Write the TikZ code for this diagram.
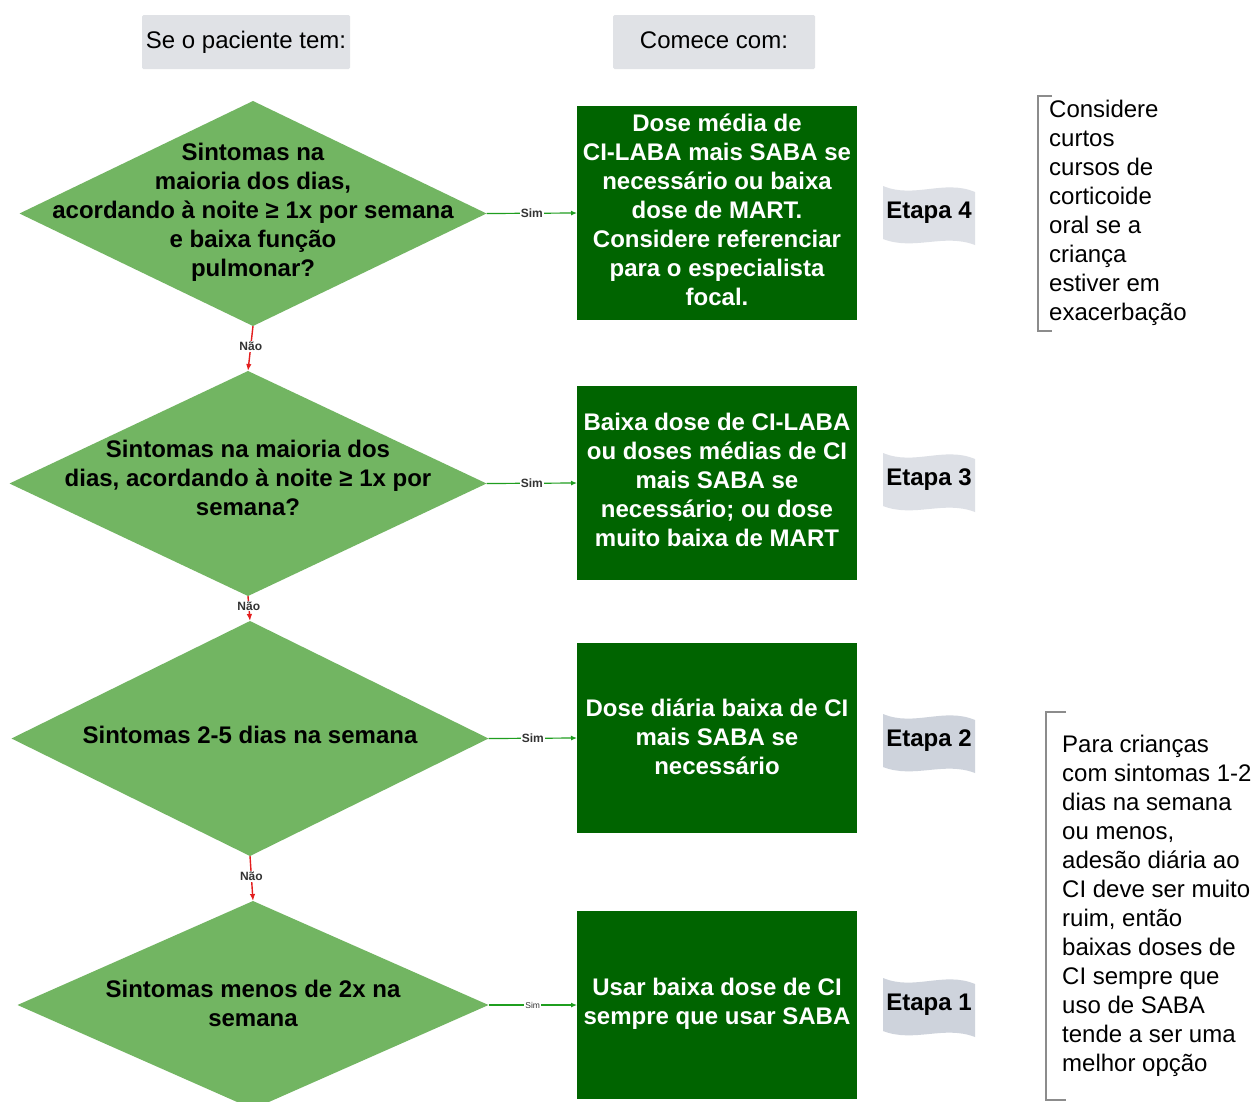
\documentclass[tikz,border=0pt]{standalone}
\usepackage{fontspec}
\setmainfont{Liberation Sans}
\usetikzlibrary{shapes.geometric,arrows.meta}

\definecolor{decisionfill}{HTML}{72B562}
\definecolor{actionfill}{HTML}{006400}
\definecolor{headerfill}{HTML}{E0E2E6}
\definecolor{tapelight}{HTML}{DDE0E6}
\definecolor{tapedark}{HTML}{CED3DC}
\definecolor{yesline}{HTML}{1F9E1F}
\definecolor{noline}{HTML}{E31E1E}
\definecolor{bracketgray}{HTML}{8C8C8C}
\definecolor{labelgray}{HTML}{333333}

\newcommand{\bigtext}{\fontsize{24}{29}\selectfont}

\begin{document}
\begin{tikzpicture}[x=1pt,y=-1pt,
  decision/.style={diamond, fill=decisionfill, draw=none, inner sep=0pt, outer sep=0pt},
  question/.style={align=center, font=\bfseries\bigtext, text=black, inner sep=0pt},
  action/.style={rectangle, fill=actionfill, draw=none, inner sep=0pt, outer sep=0pt,
    minimum width=280pt},
  actiontext/.style={align=center, font=\bfseries\bigtext, text=white, inner sep=0pt},
  header/.style={rectangle, fill=headerfill, rounded corners=1.5pt, inner sep=0pt,
    font=\bigtext, minimum height=54pt, text height=17pt, text depth=5pt},
  stagelabel/.style={font=\bfseries\bigtext, inner sep=0pt},
  note/.style={align=left, font=\bigtext, inner sep=0pt, anchor=north west},
  yesarrow/.style={draw=yesline, line width=1.2pt, -{Latex[length=6pt,width=5pt]}},
  noarrow/.style={draw=noline, line width=1.4pt, -{Latex[length=7pt,width=5.5pt]}},
  yeslabel/.style={fill=white, inner sep=1pt, text=labelgray, font=\bfseries\fontsize{12}{14}\selectfont},
  nolabel/.style={fill=white, inner sep=1pt, text=labelgray, font=\bfseries\fontsize{12}{14}\selectfont},
  bracketline/.style={draw=bracketgray, line width=1.2pt}
]
\useasboundingbox (0,0) rectangle (1253,1101);
\fill[white] (0,0) rectangle (1253,1101);
\clip (0,0) rectangle (1253,1101);

% column headers
\node[header, minimum width=208pt] (h1) at (246,42) {Se o paciente tem:};
\node[header, minimum width=202pt] (h2) at (714,42) {Comece com:};

% decision diamonds
\node[decision, minimum width=467pt, minimum height=225pt] (d1) at (253,213.5) {};
\node[decision, minimum width=477pt, minimum height=225pt] (d2) at (248,483.5) {};
\node[decision, minimum width=477pt, minimum height=235pt] (d3) at (250,738.5) {};
\node[decision, minimum width=471pt, minimum height=208pt] (d4) at (253,1005) {};

\node[question] (q1) at (253,212) {Sintomas na\\maioria dos dias,\\acordando à noite ≥ 1x por semana\\e baixa função\\pulmonar?};
\node[question] (q2) at (248,478) {Sintomas na maioria dos\\dias, acordando à noite ≥ 1x por\\semana?};
\node[question] (q3) at (250,735) {Sintomas 2-5 dias na semana};
\node[question] (q4) at (253,1003) {Sintomas menos de 2x na\\semana};

% treatment boxes
\node[action, minimum height=214pt] (b1) at (717,213) {};
\node[action, minimum height=194pt] (b2) at (717,483) {};
\node[action, minimum height=190pt] (b3) at (717,738) {};
\node[action, minimum height=188pt] (b4) at (717,1005) {};

\node[actiontext] (t1) at (717,210) {Dose média de\\CI-LABA mais SABA se\\necessário ou baixa\\dose de MART.\\Considere referenciar\\para o especialista\\focal.};
\node[actiontext] (t2) at (717,480) {Baixa dose de CI-LABA\\ou doses médias de CI\\mais SABA se\\necessário; ou dose\\muito baixa de MART};
\node[actiontext] (t3) at (717,737) {Dose diária baixa de CI\\mais SABA se\\necessário};
\node[actiontext] (t4) at (717,1004) {Usar baixa dose de CI\\sempre que usar SABA};

% stage tapes
\foreach \cy/\tint in {213/tapelight, 480/tapelight, 741/tapedark, 1005/tapedark}{
  \begin{scope}[shift={(929,\cy)}]
    \fill[\tint] (-46,-27) .. controls (-15,-14) and (15,-34) .. (46,-21)
      -- (46,32) .. controls (15,20) and (-15,38) .. (-46,26) -- cycle;
  \end{scope}
}
\node[stagelabel] (e4) at (929,213) {Etapa 4};
\node[stagelabel] (e3) at (929,480) {Etapa 3};
\node[stagelabel] (e2) at (929,741) {Etapa 2};
\node[stagelabel] (e1) at (929,1005) {Etapa 1};

% yes connectors
\draw[yesarrow] (d1.east) -- node[yeslabel] {Sim} (b1.west);
\draw[yesarrow] (d2.east) -- node[yeslabel] {Sim} (b2.west);
\draw[yesarrow] (d3.east) -- node[yeslabel] {Sim} (b3.west);
\draw[yesarrow] (d4.east) -- node[yeslabel, font=\fontsize{8.5}{10}\selectfont] {Sim} (b4.west);

% no connectors
\draw[noarrow] (d1.south) -- node[nolabel, pos=0.45] {Não} (d2.north);
\draw[noarrow] (d2.south) -- node[nolabel, pos=0.4] {Não} (d3.north);
\draw[noarrow] (d3.south) -- node[nolabel, pos=0.45] {Não} (d4.north);

% side notes with brackets
\draw[bracketline] (1052,96) -- (1038,96) -- (1038,331) -- (1052,331);
\node[note] (n1) at (1049,100) {Considere\\curtos\\cursos de\\corticoide\\oral se a\\criança\\estiver em\\exacerbação};

\draw[bracketline] (1066,712) -- (1046,712) -- (1046,1100) -- (1066,1100);
\node[note] (n2) at (1062,735) {Para crianças\\com sintomas 1-2\\dias na semana\\ou menos,\\adesão diária ao\\CI deve ser muito\\ruim, então\\baixas doses de\\CI sempre que\\uso de SABA\\tende a ser uma\\melhor opção};
\end{tikzpicture}
\end{document}
